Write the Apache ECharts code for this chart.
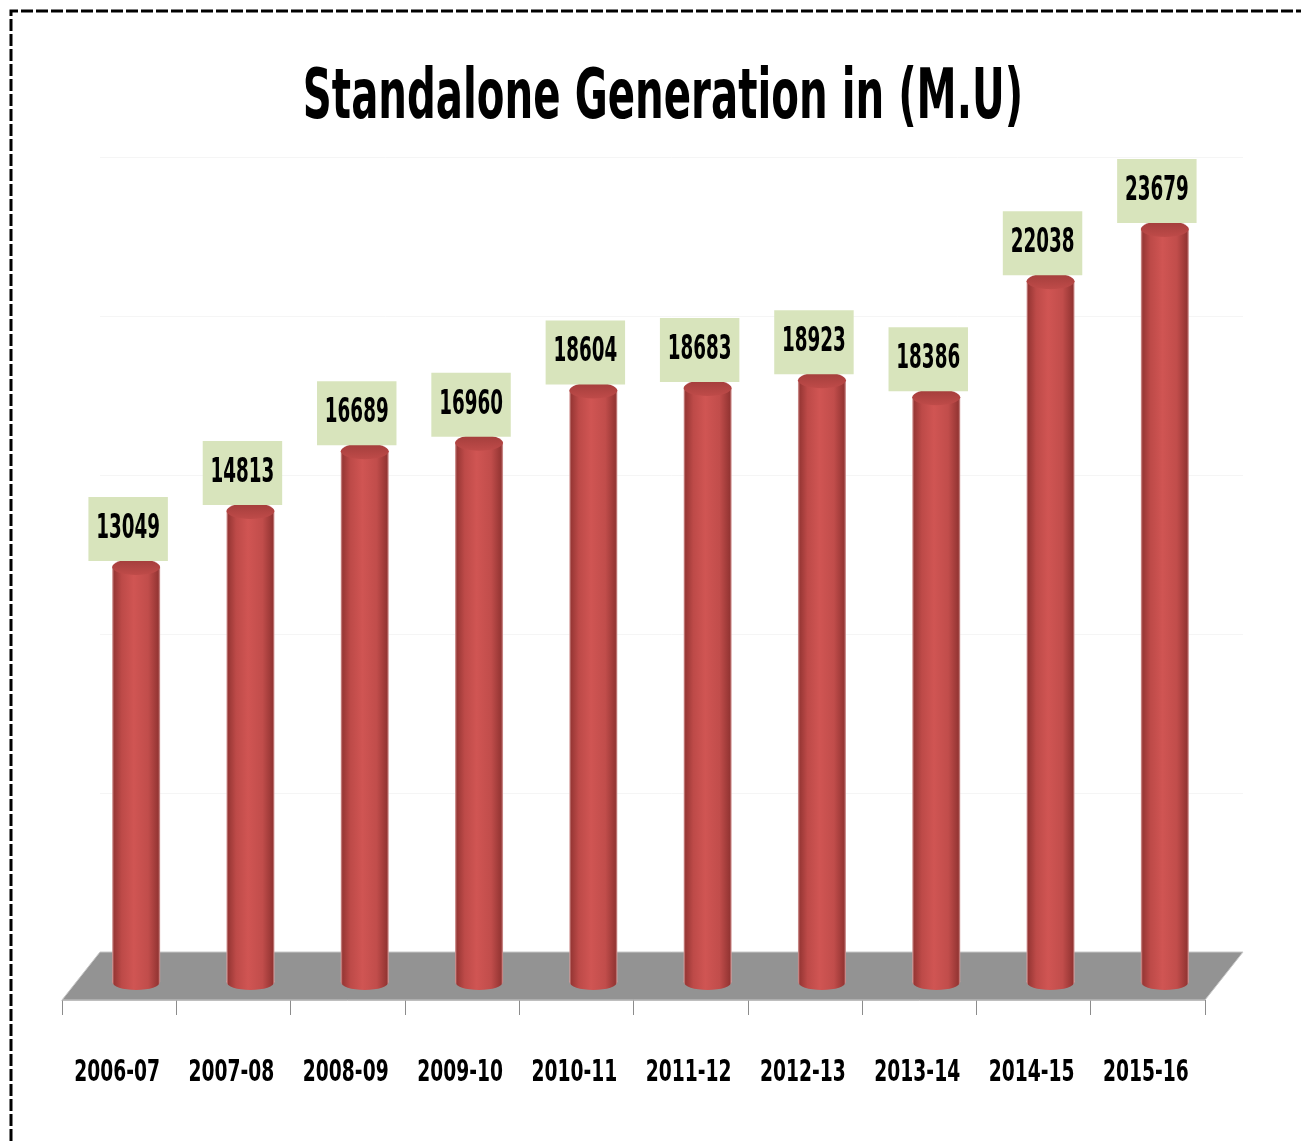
<!DOCTYPE html>
<html>
<head>
<meta charset="utf-8">
<script src="https://cdn.jsdelivr.net/npm/echarts@6/dist/echarts.min.js"></script>
<style>
  html, body { margin: 0; padding: 0; background: #fff; }
  #chart { width: 1301px; height: 1141px; }
</style>
</head>
<body>
<div id="chart"></div>
<script>
// data
var years = ["2006-07", "2007-08", "2008-09", "2009-10", "2010-11",
             "2011-12", "2012-13", "2013-14", "2014-15", "2015-16"];
var generation = [13049, 14813, 16689, 16960, 18604, 18683, 18923, 18386, 22038, 23679];
var yTicks = [0, 5000, 10000, 15000, 20000, 25000];

var FONT = "'DejaVu Sans Condensed', 'DejaVu Sans', sans-serif";
// 3d look: bars sit half way into the floor, the wall sits at the back
var DX = 17, DY = -18;
var DEPTH_X = 38, DEPTH_Y = -48;

var chart = echarts.init(document.getElementById("chart"));

function cylinder(params, api) {
  var top = api.coord([api.value(0), api.value(1)]);
  var base = api.coord([api.value(0), 0]);
  var w = api.size([1, 0])[0] * 0.42;
  var rx = w / 2, ry = 8;
  var cx = top[0] + DX;
  var ty = top[1] + DY, by = base[1] + DY;
  var bodyFill = new echarts.graphic.LinearGradient(0, 0, 1, 0, [
    { offset: 0, color: "#d9a3a2" },
    { offset: 0.04, color: "#983735" },
    { offset: 0.2, color: "#bd4a48" },
    { offset: 0.45, color: "#d05553" },
    { offset: 0.75, color: "#c14d4b" },
    { offset: 0.96, color: "#943533" },
    { offset: 1, color: "#d9a3a2" }
  ]);
  return {
    type: "group",
    children: [
      { type: "ellipse", shape: { cx: cx, cy: by, rx: rx, ry: ry }, style: { fill: bodyFill } },
      { type: "rect", shape: { x: cx - rx, y: ty, width: w, height: by - ty }, style: { fill: bodyFill } },
      {
        type: "ellipse",
        shape: { cx: cx, cy: ty, rx: rx, ry: ry },
        style: {
          fill: new echarts.graphic.LinearGradient(0, 0, 0, 1, [
            { offset: 0, color: "#a23d3b" },
            { offset: 1, color: "#bf4b49" }
          ])
        }
      },
      {
        type: "text",
        x: cx - 8,
        y: ty - ry + 2,
        scaleX: 0.6,
        style: {
          text: String(api.value(1)),
          x: 0,
          y: 0,
          align: "center",
          verticalAlign: "bottom",
          fontFamily: FONT,
          fontWeight: "bold",
          fontSize: 34,
          lineHeight: 38,
          fill: "#000",
          backgroundColor: "#d8e4bc",
          padding: [13, 13]
        }
      },
      {
        type: "text",
        x: top[0] - 2,
        y: base[1] + 73,
        scaleX: 0.67,
        style: {
          text: years[api.value(0)],
          x: 0,
          y: 0,
          align: "center",
          verticalAlign: "middle",
          fontFamily: FONT,
          fontWeight: "bold",
          fontSize: 31,
          fill: "#000"
        }
      }
    ]
  };
}

function floor(params, api) {
  var cs = params.coordSys;
  var x0 = cs.x, x1 = cs.x + cs.width, y0 = cs.y + cs.height;
  return {
    type: "polygon",
    silent: true,
    shape: {
      points: [[x0, y0], [x1, y0], [x1 + DEPTH_X, y0 + DEPTH_Y], [x0 + DEPTH_X, y0 + DEPTH_Y]]
    },
    style: { fill: "#939393", stroke: "#c8c8c8", lineWidth: 1 }
  };
}

var option = {
  backgroundColor: "#fff",
  animation: false,
  graphic: [
    {
      type: "polyline",
      shape: { points: [[11, 1141], [11, 11], [1301, 11]] },
      style: { stroke: "#000", lineWidth: 3, lineDash: [12, 3], fill: null }
    },
    {
      type: "text",
      x: 663,
      y: 100,
      scaleX: 0.64,
      style: {
        text: "Standalone Generation in (M.U)",
        x: 0,
        y: 0,
        align: "center",
        verticalAlign: "middle",
        fontFamily: FONT,
        fontWeight: "bold",
        fontSize: 70,
        fill: "#000"
      }
    }
  ],
  grid: [
    { left: 62, right: 96, top: 205, bottom: 141 },
    { left: 62 + DEPTH_X, right: 96 - DEPTH_X, top: 205 + DEPTH_Y, bottom: 141 - DEPTH_Y }
  ],
  xAxis: [
    {
      type: "category",
      gridIndex: 0,
      data: years,
      axisLine: { show: true, lineStyle: { color: "#b5b5b5", width: 1 } },
      axisTick: { show: true, interval: 0, length: 15, lineStyle: { color: "#8c8c8c" } },
      axisLabel: { show: false }
    },
    { type: "category", gridIndex: 1, data: years, show: false }
  ],
  yAxis: [
    { type: "value", gridIndex: 0, min: yTicks[0], max: yTicks[yTicks.length - 1], interval: 5000, show: false },
    {
      type: "value",
      gridIndex: 1,
      min: yTicks[0],
      max: yTicks[yTicks.length - 1],
      interval: 5000,
      axisLine: { show: false },
      axisTick: { show: false },
      axisLabel: { show: false },
      splitLine: { show: true, lineStyle: { color: "#f5f5f5", width: 1 } }
    }
  ],
  series: [
    {
      type: "custom",
      name: "floor",
      xAxisIndex: 0,
      yAxisIndex: 0,
      renderItem: floor,
      data: [[0, 0]],
      z: 1
    },
    {
      type: "custom",
      name: "Standalone Generation",
      xAxisIndex: 0,
      yAxisIndex: 0,
      renderItem: cylinder,
      encode: { x: 0, y: 1 },
      data: years.map(function (y, i) { return [i, generation[i]]; }),
      z: 2
    }
  ]
};

chart.setOption(option);
</script>
</body>
</html>
